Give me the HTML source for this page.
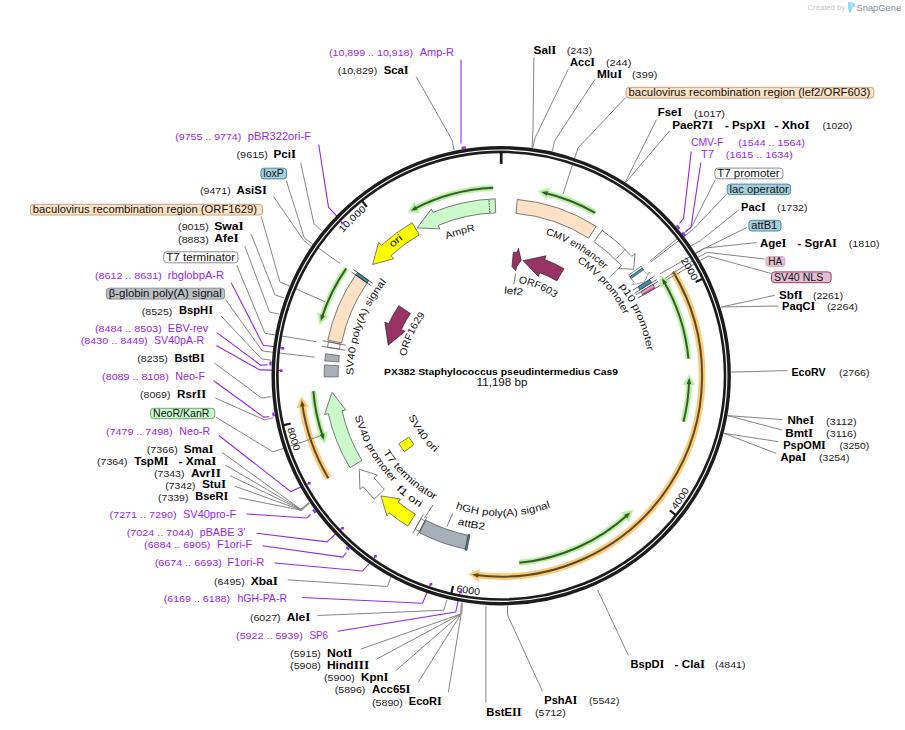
<!DOCTYPE html>
<html><head><meta charset="utf-8"><style>
html,body{margin:0;padding:0;background:#fff;overflow:hidden;}
svg{display:block;font-family:"Liberation Sans",sans-serif;}
</style></head><body>
<svg width="905" height="730" viewBox="0 0 905 730">
<rect width="905" height="730" fill="#fff"/>
<text x="807.6" y="10.4" font-size="7.6" fill="#c4c4c4" textLength="37.4" lengthAdjust="spacingAndGlyphs">Created by</text>
<path d="M847.9,2.2 L852.6,2.2 L854.8,3.6 L854.8,6.6 L852.6,7.2 L850.9,12.8 L849.3,12.8 L848.2,8.5 Z" fill="#94d6f8"/>
<path d="M851.2,2.6 L852.6,2.6 L852.4,6.6 L851.2,7.5 Z" fill="#c0e8fa"/>
<text x="856.5" y="10.9" font-size="9.6" fill="#878e96" textLength="44.6" lengthAdjust="spacingAndGlyphs">SnapGene</text>
<path d="M544.33,192.71 A188,188 0 0 1 595.2,212.89" fill="none" stroke="#b4f49c" stroke-width="6.0"/>
<path d="M539.65,191.67 L548.57,189.02 L546.31,197.93 Z" fill="#b4f49c" stroke="#b4f49c" stroke-width="2" stroke-linejoin="miter"/>
<path d="M544.33,192.71 A188,188 0 0 1 595.2,212.89" fill="none" stroke="#3d5634" stroke-width="2.0"/>
<path d="M541.41,192.05 L548.03,191.15 L546.85,195.8 Z" fill="#3d5634"/>
<path d="M413.53,209.39 A188,188 0 0 1 493.2,187.87" fill="none" stroke="#b4f49c" stroke-width="6.0"/>
<path d="M409.31,211.69 L414.3,203.82 L418.45,212.03 Z" fill="#b4f49c" stroke="#b4f49c" stroke-width="2" stroke-linejoin="miter"/>
<path d="M413.53,209.39 A188,188 0 0 1 493.2,187.87" fill="none" stroke="#3d5634" stroke-width="2.0"/>
<path d="M410.89,210.81 L415.29,205.78 L417.45,210.07 Z" fill="#3d5634"/>
<path d="M321.68,318.2 A188.5,188.5 0 0 1 346.23,268.39" fill="none" stroke="#b4f49c" stroke-width="6.0"/>
<path d="M320.28,322.79 L318.33,313.69 L327.04,316.64 Z" fill="#b4f49c" stroke="#b4f49c" stroke-width="2" stroke-linejoin="miter"/>
<path d="M321.68,318.2 A188.5,188.5 0 0 1 346.23,268.39" fill="none" stroke="#3d5634" stroke-width="2.0"/>
<path d="M320.79,321.07 L320.41,314.4 L324.96,315.94 Z" fill="#3d5634"/>
<path d="M323.01,437.2 A188.5,188.5 0 0 1 313.33,391.15" fill="none" stroke="#b4f49c" stroke-width="6.0"/>
<path d="M324.64,441.71 L317.62,435.59 L326.37,432.74 Z" fill="#b4f49c" stroke="#b4f49c" stroke-width="2" stroke-linejoin="miter"/>
<path d="M323.01,437.2 A188.5,188.5 0 0 1 313.33,391.15" fill="none" stroke="#3d5634" stroke-width="2.0"/>
<path d="M324.01,440.03 L319.71,434.91 L324.28,433.42 Z" fill="#3d5634"/>
<path d="M663.54,280.89 A188,188 0 0 1 688.43,358.66" fill="none" stroke="#b4f49c" stroke-width="6.0"/>
<path d="M661.07,276.77 L669.14,281.41 L661.12,285.91 Z" fill="#b4f49c" stroke="#b4f49c" stroke-width="2" stroke-linejoin="miter"/>
<path d="M663.54,280.89 A188,188 0 0 1 688.43,358.66" fill="none" stroke="#3d5634" stroke-width="2.0"/>
<path d="M662.01,278.31 L667.22,282.49 L663.04,284.84 Z" fill="#3d5634"/>
<path d="M689.13,380.83 A188,188 0 0 1 683.46,421.82" fill="none" stroke="#b4f49c" stroke-width="6.0"/>
<path d="M689.2,376.03 L693.61,384.23 L684.42,383.82 Z" fill="#b4f49c" stroke="#b4f49c" stroke-width="2" stroke-linejoin="miter"/>
<path d="M689.13,380.83 A188,188 0 0 1 683.46,421.82" fill="none" stroke="#3d5634" stroke-width="2.0"/>
<path d="M689.19,377.83 L691.41,384.13 L686.62,383.92 Z" fill="#3d5634"/>
<path d="M628.06,514.45 A188,188 0 0 1 519.22,562.83" fill="none" stroke="#b4f49c" stroke-width="6.0"/>
<path d="M631.56,511.16 L628.72,520.03 L622.63,513.14 Z" fill="#b4f49c" stroke="#b4f49c" stroke-width="2" stroke-linejoin="miter"/>
<path d="M628.06,514.45 A188,188 0 0 1 519.22,562.83" fill="none" stroke="#3d5634" stroke-width="2.0"/>
<path d="M630.26,512.41 L627.27,518.39 L624.09,514.79 Z" fill="#3d5634"/>
<path d="M673.04,271.63 A200.9,200.9 0 0 1 475.04,574.89" fill="none" stroke="#fdcb78" stroke-width="6.8"/>
<path d="M470.29,574.21 L477.69,579.85 L478.75,570.71 Z" fill="#fdcb78" stroke="#fdcb78" stroke-width="2" stroke-linejoin="miter"/>
<path d="M673.04,271.63 A200.9,200.9 0 0 1 475.04,574.89" fill="none" stroke="#5b4a2c" stroke-width="2.0"/>
<path d="M472.07,574.48 L477.94,577.67 L478.49,572.9 Z" fill="#5b4a2c"/>
<path d="M328.37,478.32 A201,201 0 0 1 302.09,403.22" fill="none" stroke="#fdcb78" stroke-width="6.8"/>
<path d="M301.49,398.45 L298.01,407.08 L307.1,405.68 Z" fill="#fdcb78" stroke="#fdcb78" stroke-width="2" stroke-linejoin="miter"/>
<path d="M328.37,478.32 A201,201 0 0 1 302.09,403.22" fill="none" stroke="#5b4a2c" stroke-width="2.0"/>
<path d="M301.7,400.24 L300.18,406.75 L304.93,406.02 Z" fill="#5b4a2c"/>
<path d="M416.2,76.7 L452.1,140.1 L454.1,150" fill="none" stroke="#7e7e7e" stroke-width="0.95"/>
<path d="M533.9,57.1 L533,130 L532,147.8" fill="none" stroke="#7e7e7e" stroke-width="0.95"/>
<path d="M568.2,69.3 L535,138 L532.6,148.2" fill="none" stroke="#7e7e7e" stroke-width="0.95"/>
<path d="M595.1,79.2 L554.5,141 L552.4,151" fill="none" stroke="#7e7e7e" stroke-width="0.95"/>
<path d="M625.6,97.5 L578,148 L562.8,194.5" fill="none" stroke="#7e7e7e" stroke-width="0.95"/>
<path d="M656.5,119.6 L625.2,182.4" fill="none" stroke="#7e7e7e" stroke-width="0.95"/>
<path d="M669.5,131 L625.6,182.7" fill="none" stroke="#7e7e7e" stroke-width="0.95"/>
<path d="M715.3,179.7 L691.5,227 L649.9,261" fill="none" stroke="#7e7e7e" stroke-width="0.95"/>
<path d="M726.3,194.5 L693,229.5 L650.6,262.2" fill="none" stroke="#7e7e7e" stroke-width="0.95"/>
<path d="M738.6,210.1 L700.4,240.7 L691.2,245.6" fill="none" stroke="#7e7e7e" stroke-width="0.95"/>
<path d="M746.8,227.5 L704.1,248.7 L659.7,274" fill="none" stroke="#7e7e7e" stroke-width="0.95"/>
<path d="M756.4,242.6 L704.7,248.1 L695.5,253" fill="none" stroke="#7e7e7e" stroke-width="0.95"/>
<path d="M764.7,259 L707.2,252.4 L698,257.3 L664.5,278.6" fill="none" stroke="#7e7e7e" stroke-width="0.95"/>
<path d="M770.8,273.4 L708.4,256.1 L700.4,260.4 L666.2,280.2" fill="none" stroke="#7e7e7e" stroke-width="0.95"/>
<path d="M774.9,295.3 L721.5,307" fill="none" stroke="#7e7e7e" stroke-width="0.95"/>
<path d="M778.4,306 L721.5,307" fill="none" stroke="#7e7e7e" stroke-width="0.95"/>
<path d="M787.3,370.6 L731,372.1" fill="none" stroke="#7e7e7e" stroke-width="0.95"/>
<path d="M782.9,419.6 L727.6,415.6" fill="none" stroke="#7e7e7e" stroke-width="0.95"/>
<path d="M781.8,430 L727.6,415.6" fill="none" stroke="#7e7e7e" stroke-width="0.95"/>
<path d="M778.5,441.7 L723.9,433.3" fill="none" stroke="#7e7e7e" stroke-width="0.95"/>
<path d="M776.2,453.4 L723.9,433.3" fill="none" stroke="#7e7e7e" stroke-width="0.95"/>
<path d="M628.4,655.3 L597.6,590" fill="none" stroke="#7e7e7e" stroke-width="0.95"/>
<path d="M542.3,691 L507.5,614.9 L507.5,605.9" fill="none" stroke="#7e7e7e" stroke-width="0.95"/>
<path d="M485.9,702.7 L485.9,605.9" fill="none" stroke="#7e7e7e" stroke-width="0.95"/>
<path d="M448.4,692.2 L461.2,613.8" fill="none" stroke="#7e7e7e" stroke-width="0.95"/>
<path d="M418.3,682.1 L461.2,613.8" fill="none" stroke="#7e7e7e" stroke-width="0.95"/>
<path d="M395.9,670.6 L461.2,613.8" fill="none" stroke="#7e7e7e" stroke-width="0.95"/>
<path d="M376.6,659.1 L461.2,613.8" fill="none" stroke="#7e7e7e" stroke-width="0.95"/>
<path d="M360.8,649.1 L461.2,613.8" fill="none" stroke="#7e7e7e" stroke-width="0.95"/>
<path d="M317.5,615.5 L443.8,610.2 L446.9,599.6" fill="none" stroke="#7e7e7e" stroke-width="0.95"/>
<path d="M287.7,579.8 L387.5,586.5 L391.5,575.5" fill="none" stroke="#7e7e7e" stroke-width="0.95"/>
<path d="M222.3,452.6 L301.1,509.5 L308.6,502.6" fill="none" stroke="#7e7e7e" stroke-width="0.95"/>
<path d="M225.1,464.9 L301.1,509.5" fill="none" stroke="#7e7e7e" stroke-width="0.95"/>
<path d="M230.5,475.9 L301.4,509.9" fill="none" stroke="#7e7e7e" stroke-width="0.95"/>
<path d="M234.7,486.2 L301.6,510.2" fill="none" stroke="#7e7e7e" stroke-width="0.95"/>
<path d="M238.8,497.8 L301.8,510.4 L309.4,503.4" fill="none" stroke="#7e7e7e" stroke-width="0.95"/>
<path d="M215.8,417.1 L273,451.9 L319.6,436.2" fill="none" stroke="#7e7e7e" stroke-width="0.95"/>
<path d="M215.3,398 L264.4,419.9 L273.3,417.8" fill="none" stroke="#7e7e7e" stroke-width="0.95"/>
<path d="M214.4,363 L261.6,398 L271.2,396.6" fill="none" stroke="#7e7e7e" stroke-width="0.95"/>
<path d="M221.4,316.4 L261.5,358.9 L271.2,360.2" fill="none" stroke="#7e7e7e" stroke-width="0.95"/>
<path d="M225.6,299.6 L262.4,351 L314.5,357.1" fill="none" stroke="#7e7e7e" stroke-width="0.95"/>
<path d="M236.8,265.3 L265,333.3 L316.3,341.7" fill="none" stroke="#7e7e7e" stroke-width="0.95"/>
<path d="M244.8,246.2 L269.5,312.1 L279.3,314" fill="none" stroke="#7e7e7e" stroke-width="0.95"/>
<path d="M251.2,234.1 L275,294.9 L284.3,298" fill="none" stroke="#7e7e7e" stroke-width="0.95"/>
<path d="M261.2,216.3 L279.9,281.9 L325,301.7" fill="none" stroke="#7e7e7e" stroke-width="0.95"/>
<path d="M273.6,196.7 L303.7,240.4 L311.2,246.4" fill="none" stroke="#7e7e7e" stroke-width="0.95"/>
<path d="M286.4,180.9 L304.4,238.1 L340,263.4" fill="none" stroke="#7e7e7e" stroke-width="0.95"/>
<path d="M300.7,162.8 L313.9,223.8 L321.7,230.6" fill="none" stroke="#7e7e7e" stroke-width="0.95"/>
<path d="M461.9,602.7 L461.2,613.8" fill="none" stroke="#9a9a9a" stroke-width="2.2"/>
<path d="M301.1,509.5 L309,502.8" fill="none" stroke="#8c8c8c" stroke-width="1.3"/>
<path d="M461,59.7 L461,143.6" fill="none" stroke="#9526f0" stroke-width="1.1"/>
<path d="M691.2,151.5 L683.6,218.4 L679.5,223.5" fill="none" stroke="#9526f0" stroke-width="1.1"/>
<path d="M700.8,162.5 L691,227.4 L685.5,231.5" fill="none" stroke="#9526f0" stroke-width="1.1"/>
<path d="M318.7,144.5 L328.5,207.2 L338.3,217.8 L342.5,223.5" fill="none" stroke="#9526f0" stroke-width="1.1"/>
<path d="M231.2,282.8 L263.3,345.2 L276.5,347 L282.7,348.3" fill="none" stroke="#9526f0" stroke-width="1.1"/>
<path d="M217.2,332.9 L260.6,365.1 L267.6,364.8" fill="none" stroke="#9526f0" stroke-width="1.1"/>
<path d="M216.4,345.4 L259.7,369.9 L280.8,370.4" fill="none" stroke="#9526f0" stroke-width="1.1"/>
<path d="M213.7,380.8 L263.7,417.1 L269.5,416.8" fill="none" stroke="#9526f0" stroke-width="1.1"/>
<path d="M218.9,435.5 L290.8,491.6 L308.6,483.4" fill="none" stroke="#9526f0" stroke-width="1.1"/>
<path d="M246.6,514 L307,518 L310.5,514.5" fill="none" stroke="#9526f0" stroke-width="1.1"/>
<path d="M256.6,533.2 L326.9,541.8 L342,528" fill="none" stroke="#9526f0" stroke-width="1.1"/>
<path d="M262.5,545.8 L342.8,557.1 L346.3,552.5" fill="none" stroke="#9526f0" stroke-width="1.1"/>
<path d="M274.5,563 L362.5,571 L376,556" fill="none" stroke="#9526f0" stroke-width="1.1"/>
<path d="M301.7,597.5 L422.5,603.2 L430.5,584.1" fill="none" stroke="#9526f0" stroke-width="1.1"/>
<path d="M337.8,631.3 L455.7,612 L460.1,592.1" fill="none" stroke="#9526f0" stroke-width="1.1"/>
<circle cx="501.2" cy="375.7" r="226.1" fill="none" stroke="#1c1c1c" stroke-width="7.2"/>
<circle cx="501.2" cy="375.7" r="225.7" fill="none" stroke="#ffffff" stroke-width="1.1"/>
<line x1="501.2" y1="163.9" x2="501.2" y2="152.7" stroke="#1c1c1c" stroke-width="2.8"/>
<line x1="695.65" y1="282.11" x2="702.14" y2="278.98" stroke="#1c1c1c" stroke-width="2.2"/>
<line x1="669.87" y1="510.32" x2="675.49" y2="514.81" stroke="#1c1c1c" stroke-width="2.2"/>
<line x1="453.05" y1="586.06" x2="451.45" y2="593.08" stroke="#1c1c1c" stroke-width="2.2"/>
<line x1="290.77" y1="423.55" x2="283.75" y2="425.15" stroke="#1c1c1c" stroke-width="2.2"/>
<line x1="366.82" y1="206.85" x2="362.34" y2="201.21" stroke="#1c1c1c" stroke-width="2.2"/>
<path id="tk1" d="M443.47,170.36 A213.3,213.3 0 0 1 625.68,548.91" fill="none" stroke="none"/>
<text font-size="9.6" fill="#111"><textPath href="#tk1" startOffset="295.42" text-anchor="end" textLength="24" lengthAdjust="spacingAndGlyphs">2000</textPath></text>
<path id="tk2" d="M395.72,569.22 A220.4,220.4 0 0 0 666.51,229.93" fill="none" stroke="none"/>
<text font-size="9.6" fill="#111"><textPath href="#tk2" startOffset="311.74" text-anchor="start" textLength="24" lengthAdjust="spacingAndGlyphs">4000</textPath></text>
<path id="tk3" d="M281.08,364.58 A220.4,220.4 0 0 0 704.24,461.43" fill="none" stroke="none"/>
<text font-size="9.6" fill="#111"><textPath href="#tk3" startOffset="311.74" text-anchor="start" textLength="24" lengthAdjust="spacingAndGlyphs">6000</textPath></text>
<path id="tk4" d="M415.75,172.54 A220.4,220.4 0 0 0 512.01,595.83" fill="none" stroke="none"/>
<text font-size="9.6" fill="#111"><textPath href="#tk4" startOffset="311.74" text-anchor="start" textLength="24" lengthAdjust="spacingAndGlyphs">8000</textPath></text>
<path id="tk5" d="M313.77,477.52 A213.3,213.3 0 0 1 642.5,215.91" fill="none" stroke="none"/>
<text font-size="9.6" fill="#111"><textPath href="#tk5" startOffset="295.42" text-anchor="end" textLength="33" lengthAdjust="spacingAndGlyphs">10,000</textPath></text>
<path d="M417.23,227.89 L431.43,208.91 L432.89,212.41 A177,177 0 0 1 495.21,198.8 L495.68,212.79 A163,163 0 0 0 438.3,225.33 L439.76,228.83 Z" fill="#ccf9cc" stroke="#5a5a5a" stroke-width="0.8" stroke-linejoin="miter" />
<line x1="489.79" y1="212.6" x2="488.89" y2="199.63" stroke="#333" stroke-width="0.9" stroke-dasharray="1.5,1.2"/>
<path d="M372.61,264.51 L378.67,242.21 L381.51,245.31 A177,177 0 0 1 412.17,222.72 L419.21,234.82 A163,163 0 0 0 390.97,255.62 L393.81,258.71 Z" fill="#ffff00" stroke="#5a5a5a" stroke-width="0.8" stroke-linejoin="miter" />
<path d="M517.24,199.43 A177,177 0 0 1 596.17,226.34 L588.66,238.15 A163,163 0 0 0 515.97,213.37 Z" fill="#ffe2c6" stroke="#5a5a5a" stroke-width="0.8" stroke-linejoin="miter" />
<path d="M602.09,230.27 A177,177 0 0 1 631.91,256.35 L635.01,253.52 L633.69,269.18 L618.47,268.62 L621.57,265.79 A163,163 0 0 0 594.11,241.77 Z" fill="#ffffff" stroke="#5a5a5a" stroke-width="0.8" stroke-linejoin="miter" />
<path d="M327.82,340.11 A177,177 0 0 1 355.68,274.94 L367.19,282.91 A163,163 0 0 0 341.53,342.92 Z" fill="#ffe2c6" stroke="#5a5a5a" stroke-width="0.8" stroke-linejoin="miter" />
<path d="M349.96,467.65 A177,177 0 0 1 328.33,413.71 L324.62,414.52 L332.01,392.29 L345.71,409.89 L342,410.7 A163,163 0 0 0 361.92,460.38 Z" fill="#ccf9cc" stroke="#5a5a5a" stroke-width="0.8" stroke-linejoin="miter" />
<path d="M374.31,499.1 A177,177 0 0 1 363.26,486.61 L359.91,489.3 L359.28,469.28 L377.52,475.14 L374.17,477.84 A163,163 0 0 0 384.34,489.34 Z" fill="#ffffff" stroke="#5a5a5a" stroke-width="0.8" stroke-linejoin="miter" />
<path d="M407.93,526.13 A177,177 0 0 1 389.33,512.87 L386.93,515.81 L380.99,495.91 L400.58,499.07 L398.18,502.02 A163,163 0 0 0 415.31,514.23 Z" fill="#ffff00" stroke="#5a5a5a" stroke-width="0.8" stroke-linejoin="miter" />
<path d="M465.61,549.08 A177,177 0 0 1 419.47,532.7 L425.93,520.28 A163,163 0 0 0 468.42,535.37 Z" fill="#a8afb6" stroke="#5a5a5a" stroke-width="0.8" stroke-linejoin="miter" />
<path d="M523.12,260.77 L546.03,255.81 L544.63,259.55 A124,124 0 0 1 563.95,268.75 L556.86,280.82 A110,110 0 0 0 539.72,272.67 L538.32,276.41 Z" fill="#993366" stroke="#222" stroke-width="0.7" stroke-linejoin="miter" />
<path d="M388.24,345.22 L384.82,321.93 L388.64,323.69 A124,124 0 0 1 398.89,305.64 L410.44,313.55 A110,110 0 0 0 401.34,329.56 L405.16,331.32 Z" fill="#993366" stroke="#222" stroke-width="0.7" stroke-linejoin="miter" />
<path d="M404.54,451.76 A123,123 0 0 1 398.75,443.77 L408.75,437.13 A111,111 0 0 0 413.97,444.34 Z" fill="#ffff00" stroke="#5a5a5a" stroke-width="0.8" stroke-linejoin="miter" />
<path d="M513.3,252.4 L517.4,252 L518.4,248.4 L521.2,260.3 L516.6,266.8 L515.8,270.8 L512.0,266.6 Z" fill="#993366" stroke="#222" stroke-width="0.7"/>
<path d="M466.93,550.37 A178,178 0 0 1 465.1,550 L468.35,534.33 A162,162 0 0 0 470.01,534.67 Z" fill="#3f8fae" stroke="#222" stroke-width="0.6" stroke-linejoin="miter" />
<path d="M419.39,531.53 A176,176 0 0 1 415.07,529.18 L420.94,518.72 A164,164 0 0 0 424.97,520.9 Z" fill="#ffffff" stroke="#555" stroke-width="0.7" stroke-linejoin="miter" />
<line x1="427.29" y1="516.48" x2="417.06" y2="535.96" stroke="#444" stroke-width="0.7"/>
<line x1="423.39" y1="514.36" x2="412.62" y2="533.54" stroke="#444" stroke-width="0.7"/>
<path d="M355.68,274.94 A177,177 0 0 1 357.46,272.41 L368.83,280.58 A163,163 0 0 0 367.19,282.91 Z" fill="#3f8fae" stroke="#222" stroke-width="0.6" stroke-linejoin="miter" />
<line x1="371.3" y1="285.75" x2="351.57" y2="272.09" stroke="#222" stroke-width="0.7"/>
<line x1="372.89" y1="283.5" x2="353.4" y2="269.5" stroke="#222" stroke-width="0.7"/>
<path d="M327.51,347.26 A176,176 0 0 1 328.49,341.82 L340.27,344.13 A164,164 0 0 0 339.36,349.2 Z" fill="#ffffff" stroke="#555" stroke-width="0.7" stroke-linejoin="miter" />
<line x1="345.28" y1="350.17" x2="321.59" y2="346.29" stroke="#444" stroke-width="0.7"/>
<line x1="346.16" y1="345.28" x2="322.6" y2="340.66" stroke="#444" stroke-width="0.7"/>
<path d="M324.82,360.89 A177,177 0 0 1 325.56,353.82 L339.45,355.55 A163,163 0 0 0 338.77,362.06 Z" fill="#a8afb6" stroke="#555" stroke-width="0.7" stroke-linejoin="miter" />
<path d="M324.2,376.94 A177,177 0 0 1 324.53,364.89 L338.5,365.75 A163,163 0 0 0 338.2,376.84 Z" fill="#a8afb6" stroke="#555" stroke-width="0.7" stroke-linejoin="miter" />
<path d="M628.9,274.9 L641.1,266.2 L643.5,270.1 L631.3,278.7 Z" fill="#fff" stroke="#444" stroke-width="0.6"/>
<path d="M629.9,276.6 L642.2,268.0 L643.5,270.1 L631.3,278.7 Z" fill="#3f91ac" stroke="#222" stroke-width="0.5"/>
<path d="M631.3,278.7 L643.5,270.1 L646.9,274.3 L649.7,272.0 L647.8,275.0 L644.2,282.0 L631.5,284.8 L634.4,282.6 Z" fill="#fff" stroke="#777" stroke-width="0.6"/>
<line x1="632.87" y1="290.19" x2="654.68" y2="276.03" stroke="#222" stroke-width="0.7"/>
<line x1="634.78" y1="293.2" x2="656.9" y2="279.54" stroke="#222" stroke-width="0.7"/>
<line x1="635.78" y1="294.84" x2="658.06" y2="281.45" stroke="#222" stroke-width="0.7"/>
<line x1="637.71" y1="298.15" x2="660.32" y2="285.31" stroke="#222" stroke-width="0.7"/>
<path d="M649.81,279.56 A177,177 0 0 1 651.63,282.43 L639.73,289.81 A163,163 0 0 0 638.06,287.16 Z" fill="#3f91ac" stroke="#222" stroke-width="0.5" stroke-linejoin="miter" />
<path d="M652.92,284.54 A177,177 0 0 1 655.1,288.27 L642.93,295.19 A163,163 0 0 0 640.92,291.75 Z" fill="#dba0c4" stroke="#222" stroke-width="0.5" stroke-linejoin="miter" />
<path d="M653.99,287.13 A176.6,176.6 0 0 1 654.75,288.47 L643.28,294.99 A163.4,163.4 0 0 0 642.57,293.75 Z" fill="#b03a78" stroke="none" stroke-width="0" stroke-linejoin="miter" />
<line x1="615.45" y1="259.44" x2="625.26" y2="249.45" stroke="#7a7a7a" stroke-width="0.8"/>
<path d="M609.2,277.6 L618,269.3" fill="none" stroke="#777" stroke-width="0.8"/>
<path id="tp1" d="M389,279.19 A148,148 0 0 1 639.65,428.01" fill="none" stroke="none"/>
<text font-size="10" fill="#111"><textPath href="#tp1" startOffset="50%" text-anchor="middle" textLength="69" lengthAdjust="spacingAndGlyphs">CMV enhancer</textPath></text>
<path id="tp2" d="M429.82,258.76 A137,137 0 0 1 608.27,461.17" fill="none" stroke="none"/>
<text font-size="10" fill="#111"><textPath href="#tp2" startOffset="50%" text-anchor="middle" textLength="72" lengthAdjust="spacingAndGlyphs">CMV promoter</textPath></text>
<path id="tp3" d="M466.9,231.73 A148,148 0 0 1 582.67,499.26" fill="none" stroke="none"/>
<text font-size="10" fill="#111"><textPath href="#tp3" startOffset="50%" text-anchor="middle" textLength="71" lengthAdjust="spacingAndGlyphs">p10 promoter</textPath></text>
<path id="tp4" d="M355.01,391.07 A147,147 0 0 1 633.32,311.26" fill="none" stroke="none"/>
<text font-size="10" fill="#111"><textPath href="#tp4" startOffset="50%" text-anchor="middle" textLength="30" lengthAdjust="spacingAndGlyphs">AmpR</textPath></text>
<text x="0" y="0" transform="translate(397.7,243.6) rotate(-37.3)" font-size="10" font-weight="normal" fill="#111" text-anchor="middle" textLength="14" lengthAdjust="spacingAndGlyphs">ori</text>
<path id="tp5" d="M421.5,324.93 A94.5,94.5 0 0 1 593.46,396.15" fill="none" stroke="none"/>
<text font-size="10" fill="#111"><textPath href="#tp5" startOffset="50%" text-anchor="middle" textLength="40" lengthAdjust="spacingAndGlyphs">ORF603</textPath></text>
<text x="0" y="0" transform="translate(513.4,294.5) rotate(6)" font-size="10" font-weight="normal" fill="#111" text-anchor="middle" textLength="19" lengthAdjust="spacingAndGlyphs">lef2</text>
<path d="M515.6,273.5 L513.8,284.5" fill="none" stroke="#555" stroke-width="0.8"/>
<path id="tp6" d="M445.56,455.16 A97,97 0 0 1 526.31,282.01" fill="none" stroke="none"/>
<text font-size="10" fill="#111"><textPath href="#tp6" startOffset="50%" text-anchor="middle" textLength="46" lengthAdjust="spacingAndGlyphs">ORF1629</textPath></text>
<path id="tp7" d="M427.87,504.26 A148,148 0 0 1 526.14,229.82" fill="none" stroke="none"/>
<text font-size="10" fill="#111"><textPath href="#tp7" startOffset="50%" text-anchor="middle" textLength="101" lengthAdjust="spacingAndGlyphs">SV40 poly(A) signal</textPath></text>
<path id="tp8" d="M403.5,259.26 A152,152 0 0 0 553.19,518.53" fill="none" stroke="none"/>
<text font-size="10" fill="#111"><textPath href="#tp8" startOffset="50%" text-anchor="middle" textLength="77" lengthAdjust="spacingAndGlyphs">SV40 promoter</textPath></text>
<path id="tp9" d="M382.41,299.73 A141,141 0 0 0 586.84,487.71" fill="none" stroke="none"/>
<text font-size="10" fill="#111"><textPath href="#tp9" startOffset="50%" text-anchor="middle" textLength="71" lengthAdjust="spacingAndGlyphs">T7 terminator</textPath></text>
<path id="tp10" d="M363.34,304.85 A155,155 0 0 0 606.51,489.43" fill="none" stroke="none"/>
<text font-size="10" fill="#111"><textPath href="#tp10" startOffset="50%" text-anchor="middle" textLength="30" lengthAdjust="spacingAndGlyphs">f1 ori</textPath></text>
<path id="tp11" d="M427.7,305.7 A101.5,101.5 0 0 0 546.33,466.61" fill="none" stroke="none"/>
<text font-size="10" fill="#111"><textPath href="#tp11" startOffset="50%" text-anchor="middle" textLength="45" lengthAdjust="spacingAndGlyphs">SV40 ori</textPath></text>
<path id="tp12" d="M363.19,402.03 A140.5,140.5 0 0 0 639.89,398.16" fill="none" stroke="none"/>
<text font-size="10" fill="#111"><textPath href="#tp12" startOffset="50%" text-anchor="middle" textLength="97" lengthAdjust="spacingAndGlyphs">hGH poly(A) signal</textPath></text>
<path d="M452.6,513.5 L447,526.6" fill="none" stroke="#555" stroke-width="0.8"/>
<path d="M432.9,505 L424.4,518.2" fill="none" stroke="#555" stroke-width="0.8"/>
<path id="tp13" d="M346.24,372.18 A155,155 0 0 0 645.61,432" fill="none" stroke="none"/>
<text font-size="10" fill="#111"><textPath href="#tp13" startOffset="50%" text-anchor="middle" textLength="28" lengthAdjust="spacingAndGlyphs">attB2</textPath></text>
<text x="384.1" y="374.6" font-size="9.5" font-weight="bold" fill="#000" textLength="233.9" lengthAdjust="spacingAndGlyphs" >PX382 Staphylococcus pseudintermedius Cas9</text>
<text x="476.6" y="386.2" font-size="11.3" font-weight="normal" fill="#111" textLength="50.9" lengthAdjust="spacingAndGlyphs" >11,198 bp</text>
<text x="383.7" y="74.09" font-size="10.4" font-weight="bold" fill="#000" textLength="25" lengthAdjust="spacingAndGlyphs" >Sca<tspan font-family="Liberation Serif" font-size="1.1em">I</tspan></text>
<text x="337.7" y="74.2" font-size="9" font-weight="normal" fill="#222" textLength="39.6" lengthAdjust="spacingAndGlyphs" >(10,829)</text>
<text x="533.6" y="53.99" font-size="10.4" font-weight="bold" fill="#000" textLength="22.7" lengthAdjust="spacingAndGlyphs" >Sal<tspan font-family="Liberation Serif" font-size="1.1em">I</tspan></text>
<text x="566.7" y="54.1" font-size="9" font-weight="normal" fill="#222" textLength="25.4" lengthAdjust="spacingAndGlyphs" >(243)</text>
<text x="570.1" y="65.69" font-size="10.4" font-weight="bold" fill="#000" textLength="24.9" lengthAdjust="spacingAndGlyphs" >Acc<tspan font-family="Liberation Serif" font-size="1.1em">I</tspan></text>
<text x="605.9" y="65.8" font-size="9" font-weight="normal" fill="#222" textLength="25.4" lengthAdjust="spacingAndGlyphs" >(244)</text>
<text x="597" y="77.89" font-size="10.4" font-weight="bold" fill="#000" textLength="25.4" lengthAdjust="spacingAndGlyphs" >Mlu<tspan font-family="Liberation Serif" font-size="1.1em">I</tspan></text>
<text x="632" y="78" font-size="9" font-weight="normal" fill="#222" textLength="25.3" lengthAdjust="spacingAndGlyphs" >(399)</text>
<text x="657.7" y="116.49" font-size="10.4" font-weight="bold" fill="#000" textLength="24.5" lengthAdjust="spacingAndGlyphs" >Fse<tspan font-family="Liberation Serif" font-size="1.1em">I</tspan></text>
<text x="694" y="116.6" font-size="9" font-weight="normal" fill="#222" textLength="30.9" lengthAdjust="spacingAndGlyphs" >(1017)</text>
<text x="672.3" y="128.59" font-size="10.4" font-weight="bold" fill="#000" textLength="40.8" lengthAdjust="spacingAndGlyphs" >PaeR7<tspan font-family="Liberation Serif" font-size="1.1em">I</tspan></text>
<text x="724.9" y="128.59" font-size="10.4" font-weight="bold" fill="#000" textLength="40.8" lengthAdjust="spacingAndGlyphs" >- PspX<tspan font-family="Liberation Serif" font-size="1.1em">I</tspan></text>
<text x="774.4" y="128.59" font-size="10.4" font-weight="bold" fill="#000" textLength="35.3" lengthAdjust="spacingAndGlyphs" >- Xho<tspan font-family="Liberation Serif" font-size="1.1em">I</tspan></text>
<text x="822.4" y="128.7" font-size="9" font-weight="normal" fill="#222" textLength="29.9" lengthAdjust="spacingAndGlyphs" >(1020)</text>
<text x="741" y="210.89" font-size="10.4" font-weight="bold" fill="#000" textLength="24.7" lengthAdjust="spacingAndGlyphs" >Pac<tspan font-family="Liberation Serif" font-size="1.1em">I</tspan></text>
<text x="776.9" y="211" font-size="9" font-weight="normal" fill="#222" textLength="30.6" lengthAdjust="spacingAndGlyphs" >(1732)</text>
<text x="759.9" y="246.69" font-size="10.4" font-weight="bold" fill="#000" textLength="26.6" lengthAdjust="spacingAndGlyphs" >Age<tspan font-family="Liberation Serif" font-size="1.1em">I</tspan></text>
<text x="797.6" y="246.69" font-size="10.4" font-weight="bold" fill="#000" textLength="39.3" lengthAdjust="spacingAndGlyphs" >- SgrA<tspan font-family="Liberation Serif" font-size="1.1em">I</tspan></text>
<text x="848.7" y="246.8" font-size="9" font-weight="normal" fill="#222" textLength="30.9" lengthAdjust="spacingAndGlyphs" >(1810)</text>
<text x="779" y="298.99" font-size="10.4" font-weight="bold" fill="#000" textLength="23.8" lengthAdjust="spacingAndGlyphs" >Sbf<tspan font-family="Liberation Serif" font-size="1.1em">I</tspan></text>
<text x="813.1" y="299.1" font-size="9" font-weight="normal" fill="#222" textLength="30" lengthAdjust="spacingAndGlyphs" >(2261)</text>
<text x="782.1" y="310.19" font-size="10.4" font-weight="bold" fill="#000" textLength="33.2" lengthAdjust="spacingAndGlyphs" >PaqC<tspan font-family="Liberation Serif" font-size="1.1em">I</tspan></text>
<text x="827" y="310.3" font-size="9" font-weight="normal" fill="#222" textLength="30.9" lengthAdjust="spacingAndGlyphs" >(2264)</text>
<text x="791.4" y="375.59" font-size="10.4" font-weight="bold" fill="#000" textLength="34.2" lengthAdjust="spacingAndGlyphs" >EcoRV</text>
<text x="838.9" y="375.7" font-size="9" font-weight="normal" fill="#222" textLength="30.5" lengthAdjust="spacingAndGlyphs" >(2766)</text>
<text x="787.4" y="424.49" font-size="10.4" font-weight="bold" fill="#000" textLength="26.7" lengthAdjust="spacingAndGlyphs" >Nhe<tspan font-family="Liberation Serif" font-size="1.1em">I</tspan></text>
<text x="826.1" y="424.6" font-size="9" font-weight="normal" fill="#222" textLength="30.4" lengthAdjust="spacingAndGlyphs" >(3112)</text>
<text x="785.2" y="436.59" font-size="10.4" font-weight="bold" fill="#000" textLength="27.8" lengthAdjust="spacingAndGlyphs" >Bmt<tspan font-family="Liberation Serif" font-size="1.1em">I</tspan></text>
<text x="826.1" y="436.7" font-size="9" font-weight="normal" fill="#222" textLength="30.4" lengthAdjust="spacingAndGlyphs" >(3116)</text>
<text x="783.2" y="448.79" font-size="10.4" font-weight="bold" fill="#000" textLength="42.6" lengthAdjust="spacingAndGlyphs" >PspOM<tspan font-family="Liberation Serif" font-size="1.1em">I</tspan></text>
<text x="839.4" y="448.9" font-size="9" font-weight="normal" fill="#222" textLength="29.9" lengthAdjust="spacingAndGlyphs" >(3250)</text>
<text x="780.4" y="460.69" font-size="10.4" font-weight="bold" fill="#000" textLength="26" lengthAdjust="spacingAndGlyphs" >Apa<tspan font-family="Liberation Serif" font-size="1.1em">I</tspan></text>
<text x="819" y="460.8" font-size="9" font-weight="normal" fill="#222" textLength="30.5" lengthAdjust="spacingAndGlyphs" >(3254)</text>
<text x="630.5" y="668.09" font-size="10.4" font-weight="bold" fill="#000" textLength="33.7" lengthAdjust="spacingAndGlyphs" >BspD<tspan font-family="Liberation Serif" font-size="1.1em">I</tspan></text>
<text x="674.5" y="668.09" font-size="10.4" font-weight="bold" fill="#000" textLength="30.5" lengthAdjust="spacingAndGlyphs" >- Cla<tspan font-family="Liberation Serif" font-size="1.1em">I</tspan></text>
<text x="715" y="668.2" font-size="9" font-weight="normal" fill="#222" textLength="30.4" lengthAdjust="spacingAndGlyphs" >(4841)</text>
<text x="544.3" y="704.19" font-size="10.4" font-weight="bold" fill="#000" textLength="33" lengthAdjust="spacingAndGlyphs" >PshA<tspan font-family="Liberation Serif" font-size="1.1em">I</tspan></text>
<text x="589" y="704.3" font-size="9" font-weight="normal" fill="#222" textLength="30.5" lengthAdjust="spacingAndGlyphs" >(5542)</text>
<text x="486.3" y="715.79" font-size="10.4" font-weight="bold" fill="#000" textLength="35.4" lengthAdjust="spacingAndGlyphs" >BstE<tspan font-family="Liberation Serif" font-size="1.1em">I</tspan><tspan font-family="Liberation Serif" font-size="1.1em">I</tspan></text>
<text x="535" y="715.9" font-size="9" font-weight="normal" fill="#222" textLength="30.8" lengthAdjust="spacingAndGlyphs" >(5712)</text>
<text x="408.8" y="705.39" font-size="10.4" font-weight="bold" fill="#000" textLength="32.8" lengthAdjust="spacingAndGlyphs" >EcoR<tspan font-family="Liberation Serif" font-size="1.1em">I</tspan></text>
<text x="372" y="705.5" font-size="9" font-weight="normal" fill="#222" textLength="30.8" lengthAdjust="spacingAndGlyphs" >(5890)</text>
<text x="372" y="693.09" font-size="10.4" font-weight="bold" fill="#000" textLength="38.5" lengthAdjust="spacingAndGlyphs" >Acc65<tspan font-family="Liberation Serif" font-size="1.1em">I</tspan></text>
<text x="334.7" y="693.2" font-size="9" font-weight="normal" fill="#222" textLength="30.7" lengthAdjust="spacingAndGlyphs" >(5896)</text>
<text x="361.1" y="680.99" font-size="10.4" font-weight="bold" fill="#000" textLength="27.3" lengthAdjust="spacingAndGlyphs" >Kpn<tspan font-family="Liberation Serif" font-size="1.1em">I</tspan></text>
<text x="324" y="681.1" font-size="9" font-weight="normal" fill="#222" textLength="30.8" lengthAdjust="spacingAndGlyphs" >(5900)</text>
<text x="326.9" y="668.59" font-size="10.4" font-weight="bold" fill="#000" textLength="42.3" lengthAdjust="spacingAndGlyphs" >Hind<tspan font-family="Liberation Serif" font-size="1.1em">I</tspan><tspan font-family="Liberation Serif" font-size="1.1em">I</tspan><tspan font-family="Liberation Serif" font-size="1.1em">I</tspan></text>
<text x="290.1" y="668.7" font-size="9" font-weight="normal" fill="#222" textLength="30.8" lengthAdjust="spacingAndGlyphs" >(5908)</text>
<text x="326.9" y="656.59" font-size="10.4" font-weight="bold" fill="#000" textLength="25.6" lengthAdjust="spacingAndGlyphs" >Not<tspan font-family="Liberation Serif" font-size="1.1em">I</tspan></text>
<text x="290.1" y="656.7" font-size="9" font-weight="normal" fill="#222" textLength="30.8" lengthAdjust="spacingAndGlyphs" >(5915)</text>
<text x="286.7" y="620.69" font-size="10.4" font-weight="bold" fill="#000" textLength="23.6" lengthAdjust="spacingAndGlyphs" >Ale<tspan font-family="Liberation Serif" font-size="1.1em">I</tspan></text>
<text x="249.9" y="620.8" font-size="9" font-weight="normal" fill="#222" textLength="30.7" lengthAdjust="spacingAndGlyphs" >(6027)</text>
<text x="250.7" y="584.69" font-size="10.4" font-weight="bold" fill="#000" textLength="27.1" lengthAdjust="spacingAndGlyphs" >Xba<tspan font-family="Liberation Serif" font-size="1.1em">I</tspan></text>
<text x="214.1" y="584.8" font-size="9" font-weight="normal" fill="#222" textLength="30.6" lengthAdjust="spacingAndGlyphs" >(6495)</text>
<text x="195.2" y="500.39" font-size="10.4" font-weight="bold" fill="#000" textLength="33" lengthAdjust="spacingAndGlyphs" >BseR<tspan font-family="Liberation Serif" font-size="1.1em">I</tspan></text>
<text x="158.1" y="500.5" font-size="9" font-weight="normal" fill="#222" textLength="30.3" lengthAdjust="spacingAndGlyphs" >(7339)</text>
<text x="201.9" y="488.49" font-size="10.4" font-weight="bold" fill="#000" textLength="24.2" lengthAdjust="spacingAndGlyphs" >Stu<tspan font-family="Liberation Serif" font-size="1.1em">I</tspan></text>
<text x="165.3" y="488.6" font-size="9" font-weight="normal" fill="#222" textLength="30.3" lengthAdjust="spacingAndGlyphs" >(7342)</text>
<text x="191" y="476.59" font-size="10.4" font-weight="bold" fill="#000" textLength="29.8" lengthAdjust="spacingAndGlyphs" >Avr<tspan font-family="Liberation Serif" font-size="1.1em">I</tspan><tspan font-family="Liberation Serif" font-size="1.1em">I</tspan></text>
<text x="154.1" y="476.7" font-size="9" font-weight="normal" fill="#222" textLength="30.3" lengthAdjust="spacingAndGlyphs" >(7343)</text>
<text x="134.2" y="464.59" font-size="10.4" font-weight="bold" fill="#000" textLength="34.3" lengthAdjust="spacingAndGlyphs" >TspM<tspan font-family="Liberation Serif" font-size="1.1em">I</tspan></text>
<text x="178.5" y="464.59" font-size="10.4" font-weight="bold" fill="#000" textLength="37.8" lengthAdjust="spacingAndGlyphs" >- Xma<tspan font-family="Liberation Serif" font-size="1.1em">I</tspan></text>
<text x="97.1" y="464.7" font-size="9" font-weight="normal" fill="#222" textLength="30.3" lengthAdjust="spacingAndGlyphs" >(7364)</text>
<text x="183.8" y="452.69" font-size="10.4" font-weight="bold" fill="#000" textLength="29.8" lengthAdjust="spacingAndGlyphs" >Sma<tspan font-family="Liberation Serif" font-size="1.1em">I</tspan></text>
<text x="146.7" y="452.8" font-size="9" font-weight="normal" fill="#222" textLength="31.1" lengthAdjust="spacingAndGlyphs" >(7366)</text>
<text x="177.1" y="397.99" font-size="10.4" font-weight="bold" fill="#000" textLength="29.2" lengthAdjust="spacingAndGlyphs" >Rsr<tspan font-family="Liberation Serif" font-size="1.1em">I</tspan><tspan font-family="Liberation Serif" font-size="1.1em">I</tspan></text>
<text x="140" y="398.1" font-size="9" font-weight="normal" fill="#222" textLength="30.5" lengthAdjust="spacingAndGlyphs" >(8069)</text>
<text x="174.4" y="362.19" font-size="10.4" font-weight="bold" fill="#000" textLength="30.3" lengthAdjust="spacingAndGlyphs" >BstB<tspan font-family="Liberation Serif" font-size="1.1em">I</tspan></text>
<text x="137.3" y="362.3" font-size="9" font-weight="normal" fill="#222" textLength="30.6" lengthAdjust="spacingAndGlyphs" >(8235)</text>
<text x="179" y="314.49" font-size="10.4" font-weight="bold" fill="#000" textLength="34" lengthAdjust="spacingAndGlyphs" >BspH<tspan font-family="Liberation Serif" font-size="1.1em">I</tspan></text>
<text x="141.8" y="314.6" font-size="9" font-weight="normal" fill="#222" textLength="30.6" lengthAdjust="spacingAndGlyphs" >(8525)</text>
<text x="214.2" y="242.39" font-size="10.4" font-weight="bold" fill="#000" textLength="24.6" lengthAdjust="spacingAndGlyphs" >Afe<tspan font-family="Liberation Serif" font-size="1.1em">I</tspan></text>
<text x="178.1" y="242.5" font-size="9" font-weight="normal" fill="#222" textLength="30.7" lengthAdjust="spacingAndGlyphs" >(8883)</text>
<text x="214.2" y="229.99" font-size="10.4" font-weight="bold" fill="#000" textLength="29.6" lengthAdjust="spacingAndGlyphs" >Swa<tspan font-family="Liberation Serif" font-size="1.1em">I</tspan></text>
<text x="178.1" y="230.1" font-size="9" font-weight="normal" fill="#222" textLength="30.7" lengthAdjust="spacingAndGlyphs" >(9015)</text>
<text x="236.5" y="193.59" font-size="10.4" font-weight="bold" fill="#000" textLength="30.3" lengthAdjust="spacingAndGlyphs" >AsiS<tspan font-family="Liberation Serif" font-size="1.1em">I</tspan></text>
<text x="200" y="193.7" font-size="9" font-weight="normal" fill="#222" textLength="30.7" lengthAdjust="spacingAndGlyphs" >(9471)</text>
<text x="273.6" y="158.29" font-size="10.4" font-weight="bold" fill="#000" textLength="22.5" lengthAdjust="spacingAndGlyphs" >Pci<tspan font-family="Liberation Serif" font-size="1.1em">I</tspan></text>
<text x="236.5" y="158.4" font-size="9" font-weight="normal" fill="#222" textLength="31.3" lengthAdjust="spacingAndGlyphs" >(9615)</text>
<text x="419.7" y="55.64" font-size="10.2" font-weight="normal" fill="#9526f0" textLength="34.3" lengthAdjust="spacingAndGlyphs" >Amp-R</text>
<text x="329" y="55.7" font-size="9" font-weight="normal" fill="#9526f0" textLength="84.1" lengthAdjust="spacingAndGlyphs" >(10,899 .. 10,918)</text>
<text x="690.9" y="146.14" font-size="10.2" font-weight="normal" fill="#9526f0" textLength="32.4" lengthAdjust="spacingAndGlyphs" >CMV-F</text>
<text x="738.2" y="146.2" font-size="9" font-weight="normal" fill="#9526f0" textLength="66.8" lengthAdjust="spacingAndGlyphs" >(1544 .. 1564)</text>
<text x="701.1" y="157.84" font-size="10.2" font-weight="normal" fill="#9526f0" textLength="12.9" lengthAdjust="spacingAndGlyphs" >T7</text>
<text x="725.8" y="157.9" font-size="9" font-weight="normal" fill="#9526f0" textLength="67.1" lengthAdjust="spacingAndGlyphs" >(1615 .. 1634)</text>
<text x="247.8" y="139.74" font-size="10.2" font-weight="normal" fill="#9526f0" textLength="63.2" lengthAdjust="spacingAndGlyphs" >pBR322ori-F</text>
<text x="175.3" y="139.8" font-size="9" font-weight="normal" fill="#9526f0" textLength="66" lengthAdjust="spacingAndGlyphs" >(9755 .. 9774)</text>
<text x="167.8" y="278.54" font-size="10.2" font-weight="normal" fill="#9526f0" textLength="56.3" lengthAdjust="spacingAndGlyphs" >rbglobpA-R</text>
<text x="94.9" y="278.6" font-size="9" font-weight="normal" fill="#9526f0" textLength="66.9" lengthAdjust="spacingAndGlyphs" >(8612 .. 8631)</text>
<text x="167.8" y="332.34" font-size="10.2" font-weight="normal" fill="#9526f0" textLength="40.4" lengthAdjust="spacingAndGlyphs" >EBV-rev</text>
<text x="94.9" y="332.4" font-size="9" font-weight="normal" fill="#9526f0" textLength="66.9" lengthAdjust="spacingAndGlyphs" >(8484 .. 8503)</text>
<text x="154" y="344.34" font-size="10.2" font-weight="normal" fill="#9526f0" textLength="50.2" lengthAdjust="spacingAndGlyphs" >SV40pA-R</text>
<text x="80.8" y="344.4" font-size="9" font-weight="normal" fill="#9526f0" textLength="66.9" lengthAdjust="spacingAndGlyphs" >(8430 .. 8449)</text>
<text x="175.2" y="379.84" font-size="10.2" font-weight="normal" fill="#9526f0" textLength="29.8" lengthAdjust="spacingAndGlyphs" >Neo-F</text>
<text x="102.1" y="379.9" font-size="9" font-weight="normal" fill="#9526f0" textLength="66.8" lengthAdjust="spacingAndGlyphs" >(8089 .. 8108)</text>
<text x="179.3" y="434.64" font-size="10.2" font-weight="normal" fill="#9526f0" textLength="30.8" lengthAdjust="spacingAndGlyphs" >Neo-R</text>
<text x="106.1" y="434.7" font-size="9" font-weight="normal" fill="#9526f0" textLength="66.5" lengthAdjust="spacingAndGlyphs" >(7479 .. 7498)</text>
<text x="183" y="517.54" font-size="10.2" font-weight="normal" fill="#9526f0" textLength="53.1" lengthAdjust="spacingAndGlyphs" >SV40pro-F</text>
<text x="109.6" y="517.6" font-size="9" font-weight="normal" fill="#9526f0" textLength="66.9" lengthAdjust="spacingAndGlyphs" >(7271 .. 7290)</text>
<text x="199.7" y="535.54" font-size="10.2" font-weight="normal" fill="#9526f0" textLength="45.7" lengthAdjust="spacingAndGlyphs" >pBABE 3'</text>
<text x="126.8" y="535.6" font-size="9" font-weight="normal" fill="#9526f0" textLength="66.9" lengthAdjust="spacingAndGlyphs" >(7024 .. 7044)</text>
<text x="217" y="548.04" font-size="10.2" font-weight="normal" fill="#9526f0" textLength="35.1" lengthAdjust="spacingAndGlyphs" >F1ori-F</text>
<text x="144.1" y="548.1" font-size="9" font-weight="normal" fill="#9526f0" textLength="66.3" lengthAdjust="spacingAndGlyphs" >(6884 .. 6905)</text>
<text x="227.2" y="565.94" font-size="10.2" font-weight="normal" fill="#9526f0" textLength="37.1" lengthAdjust="spacingAndGlyphs" >F1ori-R</text>
<text x="154.7" y="566" font-size="9" font-weight="normal" fill="#9526f0" textLength="67.1" lengthAdjust="spacingAndGlyphs" >(6674 .. 6693)</text>
<text x="237.5" y="601.84" font-size="10.2" font-weight="normal" fill="#9526f0" textLength="49.5" lengthAdjust="spacingAndGlyphs" >hGH-PA-R</text>
<text x="163.7" y="601.9" font-size="9" font-weight="normal" fill="#9526f0" textLength="66.4" lengthAdjust="spacingAndGlyphs" >(6169 .. 6188)</text>
<text x="309.4" y="638.64" font-size="10.2" font-weight="normal" fill="#9526f0" textLength="18.7" lengthAdjust="spacingAndGlyphs" >SP6</text>
<text x="236.1" y="638.7" font-size="9" font-weight="normal" fill="#9526f0" textLength="66.7" lengthAdjust="spacingAndGlyphs" >(5922 .. 5939)</text>
<rect x="626.1" y="87.3" width="247.7" height="10.8" rx="3" ry="3" fill="#fde2c5" stroke="#c9a27a" stroke-width="1"/>
<text x="628.5" y="96.3" font-size="10" fill="#111" textLength="241.8" lengthAdjust="spacingAndGlyphs">baculovirus recombination region (lef2/ORF603)</text>
<rect x="714.9" y="168.1" width="68" height="10.7" rx="3" ry="3" fill="#ffffff" stroke="#8c8c8c" stroke-width="1"/>
<text x="717.3" y="177.05" font-size="10" fill="#111" textLength="62.3" lengthAdjust="spacingAndGlyphs">T7 promoter</text>
<rect x="727.2" y="184.1" width="63.4" height="10.5" rx="3" ry="3" fill="#a7cdd9" stroke="#3f8fab" stroke-width="1"/>
<text x="729.6" y="192.95" font-size="10" fill="#111" textLength="59.2" lengthAdjust="spacingAndGlyphs">lac operator</text>
<rect x="748.9" y="220.3" width="32.1" height="10.7" rx="3" ry="3" fill="#a7cdd9" stroke="#3f8fab" stroke-width="1"/>
<text x="751.3" y="229.25" font-size="10" fill="#111" textLength="26" lengthAdjust="spacingAndGlyphs">attB1</text>
<rect x="765.9" y="256.5" width="19.1" height="10.1" rx="3" ry="3" fill="#dfbfd0" stroke="#d8aac4" stroke-width="1"/>
<text x="768.3" y="265.15" font-size="10" fill="#111" textLength="14" lengthAdjust="spacingAndGlyphs">HA</text>
<rect x="771.5" y="271.9" width="59.6" height="10.8" rx="3" ry="3" fill="#dfbfd0" stroke="#a3336d" stroke-width="1"/>
<text x="773.9" y="280.9" font-size="10" fill="#111" textLength="49.3" lengthAdjust="spacingAndGlyphs">SV40 NLS</text>
<rect x="260.9" y="168.2" width="25.6" height="10.7" rx="3" ry="3" fill="#a7cdd9" stroke="#3f8fab" stroke-width="1"/>
<text x="263.3" y="177.15" font-size="10" fill="#111" textLength="20.4" lengthAdjust="spacingAndGlyphs">loxP</text>
<rect x="30.4" y="204.3" width="232" height="10.7" rx="3" ry="3" fill="#fde2c5" stroke="#c9a27a" stroke-width="1"/>
<text x="32.8" y="213.25" font-size="10" fill="#111" textLength="224.3" lengthAdjust="spacingAndGlyphs">baculovirus recombination region (ORF1629)</text>
<rect x="163.8" y="251.8" width="74.1" height="11" rx="3" ry="3" fill="#ffffff" stroke="#8c8c8c" stroke-width="1"/>
<text x="166.2" y="260.9" font-size="10" fill="#111" textLength="69" lengthAdjust="spacingAndGlyphs">T7 terminator</text>
<rect x="106.3" y="288.2" width="118.3" height="10.9" rx="3" ry="3" fill="#bcc0c5" stroke="#8a9096" stroke-width="1"/>
<text x="108.7" y="297.25" font-size="10" fill="#111" textLength="113" lengthAdjust="spacingAndGlyphs">β-globin poly(A) signal</text>
<rect x="150.6" y="408.3" width="64.2" height="10.4" rx="3" ry="3" fill="#ccf7cc" stroke="#6aa86a" stroke-width="1"/>
<text x="153" y="417.1" font-size="10" fill="#111" textLength="56.5" lengthAdjust="spacingAndGlyphs">NeoR/KanR</text>
<path d="M461.56,148.13 A231,231 0 0 1 466,147.4" fill="none" stroke="#9526f0" stroke-width="2.2"/>
<path d="M676.59,225.37 A231,231 0 0 1 679.49,228.82" fill="none" stroke="#9526f0" stroke-width="2.2"/>
<path d="M682.36,232.38 A231,231 0 0 1 685.12,235.93" fill="none" stroke="#9526f0" stroke-width="2.2"/>
<rect x="341.38" y="221.85" width="2.6" height="2.6" fill="#9526f0"/>
<rect x="281.61" y="347.01" width="2.6" height="2.6" fill="#9526f0"/>
<path d="M270.43,365.45 A231,231 0 0 1 270.64,361.46" fill="none" stroke="#9526f0" stroke-width="2.2"/>
<rect x="279.96" y="369.4" width="2.6" height="2.6" fill="#9526f0"/>
<path d="M273.82,416.43 A231,231 0 0 1 273.15,412.49" fill="none" stroke="#9526f0" stroke-width="2.2"/>
<rect x="307.99" y="481.97" width="2.6" height="2.6" fill="#9526f0"/>
<path d="M315.4,512.96 A231,231 0 0 1 313.05,509.72" fill="none" stroke="#9526f0" stroke-width="2.2"/>
<rect x="341.29" y="526.86" width="2.6" height="2.6" fill="#9526f0"/>
<path d="M349.24,549.68 A231,231 0 0 1 346.25,547.02" fill="none" stroke="#9526f0" stroke-width="2.2"/>
<rect x="374.19" y="554.95" width="2.6" height="2.6" fill="#9526f0"/>
<rect x="429.68" y="582.89" width="2.6" height="2.6" fill="#9526f0"/>
<rect x="459.28" y="590.62" width="2.6" height="2.6" fill="#9526f0"/>
</svg></body></html>
